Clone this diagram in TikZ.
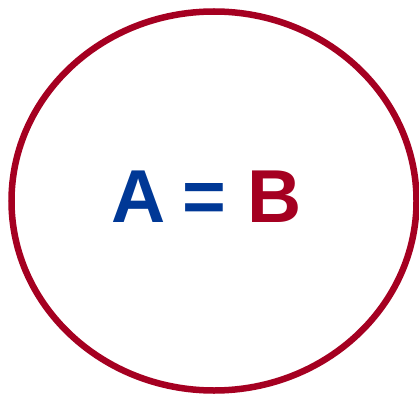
\documentclass[tikz,border=0pt]{standalone}
\usepackage{fontspec}
\setmainfont{Liberation Sans}
\definecolor{eqblue}{RGB}{0,56,150}
\definecolor{eqred}{RGB}{165,0,33}
\begin{document}
\begin{tikzpicture}[x=1pt,y=1pt,
  lbl/.style={anchor=base,inner sep=0pt,font=\fontsize{75}{75}\selectfont\bfseries}]
\useasboundingbox (0,0) rectangle (419,394);
\draw[eqred,line width=6.5pt] (214,193) ellipse [x radius=202.5, y radius=189.5];
\node[lbl,text=eqblue] (a) at (138.5,172) {A};
\node[lbl,text=eqblue] (eq) at (204,172) {=};
\node[lbl,text=eqred] (b) at (274.5,172) {B};
\end{tikzpicture}
\end{document}
